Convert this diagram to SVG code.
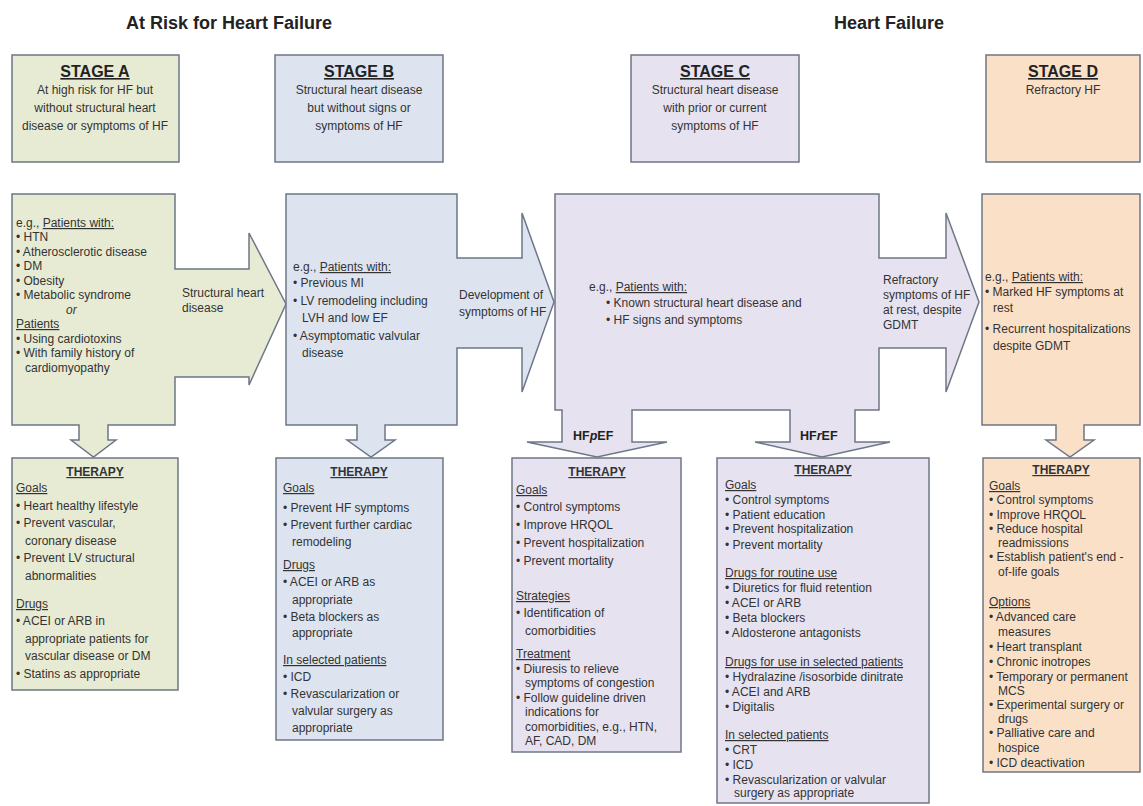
<svg xmlns="http://www.w3.org/2000/svg" width="1143" height="806" viewBox="0 0 1143 806">
<style>
text{font-family:"Liberation Sans",Arial,sans-serif;font-size:12px;fill:#333}
.title{font-size:18px;font-weight:bold;fill:#222;text-anchor:middle}
.stage{font-size:16px;font-weight:bold;text-decoration:underline;text-anchor:middle;fill:#222}
.c{text-anchor:middle}
.u{text-decoration:underline}
.th{font-weight:bold;text-decoration:underline;text-anchor:middle}
.lbl{font-size:12.5px;font-weight:bold;fill:#222}
.box{stroke:#6e7787;stroke-width:1.5}
.ga{fill:#e7ebd4}
.gb{fill:#dde4ef}
.gc{fill:#e7e2ef}
.gd{fill:#fbe0c8}
</style>
<text class="title" x="229" y="29">At Risk for Heart Failure</text>
<text class="title" x="889" y="29">Heart Failure</text>

<g id="stageA-header">
<rect class="box ga" x="12" y="55" width="167" height="107"/>
<text class="stage" x="95" y="77">STAGE A</text>
<text class="c" x="95" y="94">At high risk for HF but</text>
<text class="c" x="95" y="112">without structural heart</text>
<text class="c" x="95" y="130">disease or symptoms of HF</text>
</g>
<g id="stageB-header">
<rect class="box gb" x="275" y="55" width="168" height="107"/>
<text class="stage" x="359" y="77">STAGE B</text>
<text class="c" x="359" y="94">Structural heart disease</text>
<text class="c" x="359" y="112">but without signs or</text>
<text class="c" x="359" y="130">symptoms of HF</text>
</g>
<g id="stageC-header">
<rect class="box gc" x="631" y="55" width="168" height="107"/>
<text class="stage" x="715" y="77">STAGE C</text>
<text class="c" x="715" y="94">Structural heart disease</text>
<text class="c" x="715" y="112">with prior or current</text>
<text class="c" x="715" y="130">symptoms of HF</text>
</g>
<g id="stageD-header">
<rect class="box gd" x="986" y="55" width="154" height="107"/>
<text class="stage" x="1063" y="77">STAGE D</text>
<text class="c" x="1063" y="94">Refractory HF</text>
</g>

<g id="connectors">
<path class="box ga" d="M12,194 H175 V269 H249 V233 L286,304 L249,385 V377 H175 V425 H108 V440 H116 L93.5,457 L71,440 H79 V425 H12 Z"/>
<path class="box gb" d="M286,194 H457 V258 H522 V213 L554,302 L522,392 V348 H457 V425 H385 V440 H395 L371,457 L347,440 H357 V425 H286 Z"/>
<path class="box gc" d="M555,194 H879 V258 H946 V213 L979,302 L946,392 V348 H879 V410 H855 V442 H890 L822,457 L755,442 H790 V410 H632 V442 H667 L597,457 L527,442 H562 V410 H555 Z"/>
<path class="box gd" d="M982,194 H1140 V425 H1084 V440 H1094 L1070,457 L1046,440 H1056 V425 H982 Z"/>
<text x="182" y="297">Structural heart</text>
<text x="182" y="312">disease</text>
<text x="459" y="299">Development of</text>
<text x="459" y="316">symptoms of HF</text>
<text x="883" y="284">Refractory</text>
<text x="883" y="299">symptoms of HF</text>
<text x="883" y="314">at rest, despite</text>
<text x="883" y="329">GDMT</text>
<text class="lbl" x="573" y="440">HF<tspan font-style="italic">p</tspan>EF</text>
<text class="lbl" x="800" y="440">HF<tspan font-style="italic">r</tspan>EF</text>
</g>

<g id="stageA-patients">
<text x="16" y="227">e.g., <tspan class="u">Patients with:</tspan></text>
<text x="16" y="241">• HTN</text>
<text x="16" y="256">• Atherosclerotic disease</text>
<text x="16" y="270">• DM</text>
<text x="16" y="285">• Obesity</text>
<text x="16" y="299">• Metabolic syndrome</text>
<text x="66" y="314" font-style="italic">or</text>
<text x="16" y="328" class="u">Patients</text>
<text x="16" y="343">• Using cardiotoxins</text>
<text x="16" y="357">• With family history of</text>
<text x="25" y="372">cardiomyopathy</text>
</g>
<g id="stageB-patients">
<text x="293" y="271">e.g., <tspan class="u">Patients with:</tspan></text>
<text x="293" y="287">• Previous MI</text>
<text x="293" y="305">• LV remodeling including</text>
<text x="302" y="322">LVH and low EF</text>
<text x="293" y="340">• Asymptomatic valvular</text>
<text x="302" y="357">disease</text>
</g>
<g id="stageC-patients">
<text x="589" y="291">e.g., <tspan class="u">Patients with:</tspan></text>
<text x="606" y="307">• Known structural heart disease and</text>
<text x="606" y="324">• HF signs and symptoms</text>
</g>
<g id="stageD-patients">
<text x="985" y="281">e.g., <tspan class="u">Patients with:</tspan></text>
<text x="985" y="296">• Marked HF symptoms at</text>
<text x="993" y="312">rest</text>
<text x="985" y="333">• Recurrent hospitalizations</text>
<text x="993" y="350">despite GDMT</text>
</g>

<g id="therapyA">
<rect class="box ga" x="12" y="458" width="166" height="232"/>
<text class="th" x="95" y="476">THERAPY</text>
<text class="u" x="16" y="492">Goals</text>
<text x="16" y="510">• Heart healthy lifestyle</text>
<text x="16" y="527">• Prevent vascular,</text>
<text x="25" y="545">coronary disease</text>
<text x="16" y="562">• Prevent LV structural</text>
<text x="25" y="580">abnormalities</text>
<text class="u" x="16" y="608">Drugs</text>
<text x="16" y="625">• ACEI or ARB in</text>
<text x="25" y="643">appropriate patients for</text>
<text x="25" y="660">vascular disease or DM</text>
<text x="16" y="678">• Statins as appropriate</text>
</g>
<g id="therapyB">
<rect class="box gb" x="276" y="458" width="167" height="282"/>
<text class="th" x="359" y="476">THERAPY</text>
<text class="u" x="283" y="492">Goals</text>
<text x="283" y="512">• Prevent HF symptoms</text>
<text x="283" y="529">• Prevent further cardiac</text>
<text x="292" y="546">remodeling</text>
<text class="u" x="283" y="569">Drugs</text>
<text x="283" y="586">• ACEI or ARB  as</text>
<text x="292" y="604">appropriate</text>
<text x="283" y="621">• Beta blockers as</text>
<text x="292" y="637">appropriate</text>
<text class="u" x="283" y="664">In selected patients</text>
<text x="283" y="681">• ICD</text>
<text x="283" y="698">• Revascularization or</text>
<text x="292" y="715">valvular surgery as</text>
<text x="292" y="732">appropriate</text>
</g>
<g id="therapyHFpEF">
<rect class="box gc" x="512" y="458" width="169" height="294"/>
<text class="th" x="597" y="476">THERAPY</text>
<text class="u" x="516" y="494">Goals</text>
<text x="516" y="511">• Control symptoms</text>
<text x="516" y="529">• Improve HRQOL</text>
<text x="516" y="547">• Prevent hospitalization</text>
<text x="516" y="565">• Prevent mortality</text>
<text class="u" x="516" y="600">Strategies</text>
<text x="516" y="617">• Identification of</text>
<text x="525" y="635">comorbidities</text>
<text class="u" x="516" y="658">Treatment</text>
<text x="516" y="673">• Diuresis to relieve</text>
<text x="525" y="687">symptoms of congestion</text>
<text x="516" y="702">• Follow guideline driven</text>
<text x="525" y="716">indications for</text>
<text x="525" y="731">comorbidities, e.g., HTN,</text>
<text x="525" y="745">AF, CAD, DM</text>
</g>
<g id="therapyHFrEF">
<rect class="box gc" x="717" y="458" width="212" height="345"/>
<text class="th" x="823" y="474">THERAPY</text>
<text class="u" x="725" y="489">Goals</text>
<text x="725" y="504">• Control symptoms</text>
<text x="725" y="519">• Patient education</text>
<text x="725" y="533">• Prevent hospitalization</text>
<text x="725" y="549">• Prevent mortality</text>
<text class="u" x="725" y="577">Drugs for routine use </text>
<text x="725" y="592">• Diuretics for fluid retention</text>
<text x="725" y="607">• ACEI or ARB</text>
<text x="725" y="622">• Beta blockers</text>
<text x="725" y="637">• Aldosterone antagonists</text>
<text class="u" x="725" y="666">Drugs for use in selected patients </text>
<text x="725" y="681">• Hydralazine /isosorbide dinitrate</text>
<text x="725" y="696">• ACEI and ARB</text>
<text x="725" y="711">• Digitalis</text>
<text class="u" x="725" y="739">In selected patients </text>
<text x="725" y="754">• CRT</text>
<text x="725" y="769">• ICD</text>
<text x="725" y="784">• Revascularization or valvular</text>
<text x="734" y="797">surgery as appropriate</text>
</g>
<g id="therapyD">
<rect class="box gd" x="983" y="458" width="157" height="314"/>
<text class="th" x="1061" y="474">THERAPY</text>
<text class="u" x="989" y="490">Goals</text>
<text x="989" y="504">• Control symptoms</text>
<text x="989" y="519">• Improve HRQOL</text>
<text x="989" y="533">• Reduce hospital</text>
<text x="998" y="547">readmissions</text>
<text x="989" y="561">• Establish patient's end -</text>
<text x="998" y="576">of-life goals</text>
<text class="u" x="989" y="606">Options </text>
<text x="989" y="621">• Advanced care</text>
<text x="998" y="636">measures</text>
<text x="989" y="651">• Heart transplant</text>
<text x="989" y="666">• Chronic inotropes</text>
<text x="989" y="681">• Temporary or permanent</text>
<text x="998" y="695">MCS</text>
<text x="989" y="709">• Experimental surgery or</text>
<text x="998" y="723">drugs</text>
<text x="989" y="737">• Palliative care and</text>
<text x="998" y="752">hospice</text>
<text x="989" y="767">• ICD deactivation</text>
</g>
</svg>
